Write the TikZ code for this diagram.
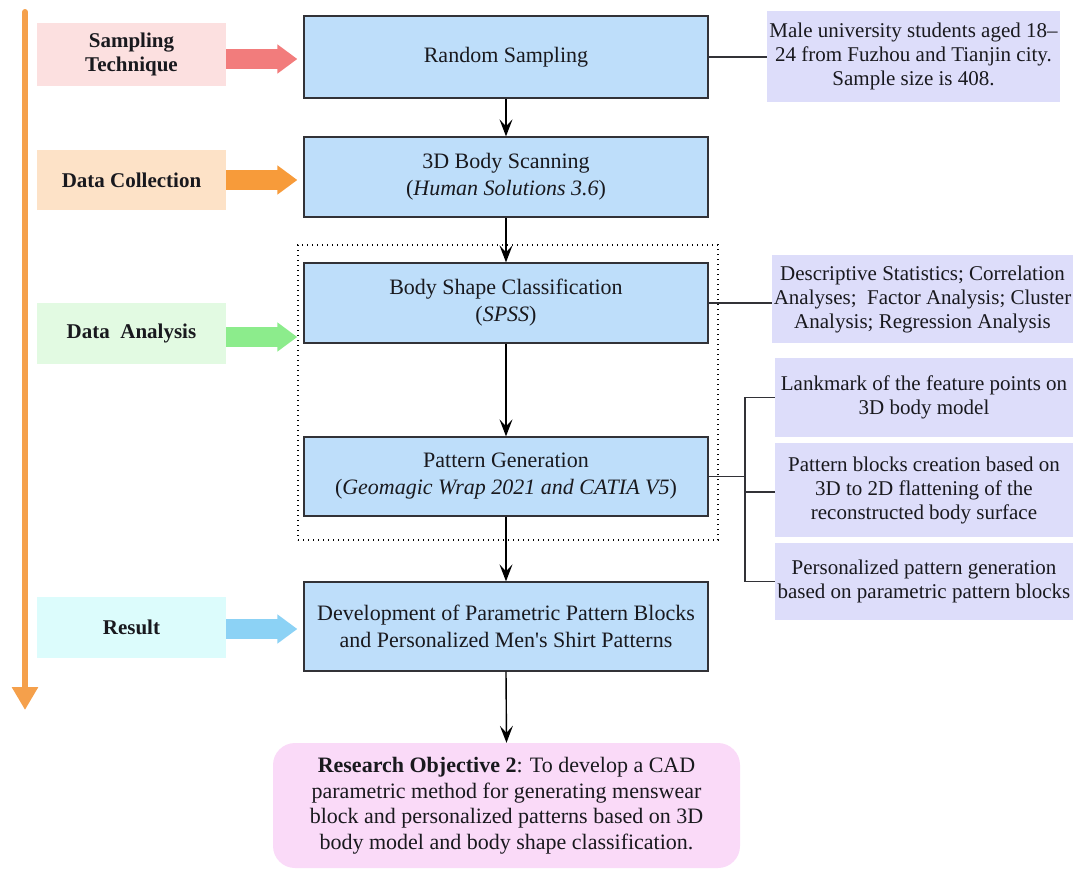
\documentclass[tikz,border=0pt]{standalone}
\usepackage{fontspec}
\setmainfont{Liberation Serif}
\usetikzlibrary{arrows.meta}

\definecolor{mainblue}{RGB}{190,222,250}
\definecolor{noteblue}{RGB}{221,221,250}
\definecolor{objpink}{RGB}{250,218,248}
\definecolor{edgegray}{RGB}{50,50,55}
\definecolor{inkblack}{RGB}{25,25,30}
\definecolor{stfill}{RGB}{252,224,224}
\definecolor{starrow}{RGB}{242,124,124}
\definecolor{dcfill}{RGB}{253,226,199}
\definecolor{dcarrow}{RGB}{247,155,58}
\definecolor{dafill}{RGB}{226,250,226}
\definecolor{daarrow}{RGB}{140,236,140}
\definecolor{rfill}{RGB}{220,252,252}
\definecolor{rarrow}{RGB}{140,210,245}
\definecolor{flowline}{RGB}{245,160,75}

\begin{document}
\begin{tikzpicture}[x=1pt,y=-1pt,
  mainbox/.style={draw=edgegray, line width=1.3pt, fill=mainblue, minimum width=404pt,
    align=center, font=\fontsize{22}{27}\selectfont, text=inkblack, inner sep=0pt},
  note/.style={fill=noteblue, align=center, font=\fontsize{21}{24}\selectfont,
    text=inkblack, inner sep=0pt},
  stage/.style={align=center, font=\bfseries\fontsize{21}{24}\selectfont,
    text=inkblack, minimum width=189pt, inner sep=0pt},
  flow/.style={line width=1.4pt, draw=black, -{Stealth[length=17pt,width=13pt,inset=7pt]}},
  link/.style={line width=1.2pt, draw=edgegray},
  blockarrow/.style={line width=20pt, draw=#1, -{Triangle[length=20pt,width=28pt]}},
]
\useasboundingbox (0,0) rectangle (1077,871);

% timeline on the left
\coordinate (flowtop) at (25,12);
\coordinate (flowend) at (25,710);
\draw[line width=6pt, draw=flowline, line cap=round,
      -{Triangle[length=23pt,width=25pt]}] (flowtop) -- (flowend);

% stage labels
\node[stage, fill=stfill, minimum height=63pt] (st) at (131.5,54.5) {Sampling\\Technique};
\node[stage, fill=dcfill, minimum height=60pt] (dc) at (131.5,180) {Data Collection};
\node[stage, fill=dafill, minimum height=61pt] (da) at (131.5,333.5) {Data~~Analysis};
\node[stage, fill=rfill, minimum height=61pt] (res) at (131.5,627.5) {Result};

% dotted frame around the analysis steps
\node[draw=black, dash pattern=on 1.4pt off 3.6pt, line width=1.4pt,
      minimum width=420pt, minimum height=295pt, inner sep=0pt] (analysis) at (508,392.5) {};

% main process boxes
\node[mainbox, minimum height=82pt] (rs) at (506,57) {Random Sampling};
\node[mainbox, minimum height=80pt] (scan) at (506,177) {3D Body Scanning\\(\textit{Human Solutions 3.6})};
\node[mainbox, minimum height=80pt] (bsc) at (506,303) {Body Shape Classification\\(\textit{SPSS})};
\node[mainbox, minimum height=79pt] (pg) at (506,476.5) {Pattern Generation\\(\textit{Geomagic Wrap 2021 and CATIA V5})};
\node[mainbox, minimum height=89pt] (dev) at (506,626.5) {Development of Parametric Pattern Blocks\\and Personalized Men\textquotesingle s Shirt Patterns};

% objective
\node[fill=objpink, rounded corners=22pt, minimum width=467pt, minimum height=125pt,
      align=center, font=\fontsize{22}{25.5}\selectfont, text=inkblack, inner sep=0pt]
  (obj) at (506.5,805.5)
  {\textbf{Research Objective 2}: To develop a CAD\\parametric method for generating menswear\\block and personalized patterns based on 3D\\body model and body shape classification.};

% side notes
\node[note, minimum width=293pt, minimum height=91pt] (b1) at (913.5,56.5)
  {Male university students aged 18–\\24 from Fuzhou and Tianjin city.\\Sample size is 408.};
\node[note, minimum width=301pt, minimum height=88pt] (b2) at (922.5,299)
  {Descriptive Statistics; Correlation\\Analyses;~ Factor Analysis; Cluster\\Analysis; Regression Analysis};
\node[note, minimum width=298pt, minimum height=79pt] (b3) at (924,397.5)
  {Lankmark of the feature points on\\3D body model};
\node[note, minimum width=298pt, minimum height=94pt] (b4) at (924,490)
  {Pattern blocks creation based on\\3D to 2D flattening of the\\reconstructed body surface};
\node[note, minimum width=298pt, minimum height=77pt] (b5) at (924,581.5)
  {Personalized pattern generation\\based on parametric pattern blocks};

% block arrows from stages to steps
\draw[blockarrow=starrow] ([yshift=-4.5pt]st.east) -- ([xshift=-6pt,yshift=-4.5pt]st.east -| rs.west);
\draw[blockarrow=dcarrow] (dc.east) -- ([xshift=-6pt]dc.east -| scan.west);
\draw[blockarrow=daarrow] ([yshift=-3.5pt]da.east) -- ([yshift=-3.5pt]da.east -| analysis.west);
\draw[blockarrow=rarrow] ([yshift=-1.5pt]res.east) -- ([xshift=-6pt,yshift=-1.5pt]res.east -| dev.west);

% process flow
\draw[flow] (rs.south) -- (scan.north);
\draw[flow] (scan.south) -- (bsc.north);
\draw[flow] (bsc.south) -- (pg.north);
\draw[flow] (pg.south) -- (dev.north);
\draw[flow] (dev.south) -- (obj.north);

% links to side notes
\draw[link] (rs.east) -- (rs.east -| b1.west);
\draw[link] (bsc.east) -- (bsc.east -| b2.west);
\coordinate (brk) at (745,476.5);
\draw[link] (pg.east) -- (brk);
\draw[link] (b3.west) -- (b3.west -| brk) |- (b5.west);
\draw[link] ([yshift=-2pt]b4.west) -- ([yshift=-2pt]b4.west -| brk);
\end{tikzpicture}
\end{document}
